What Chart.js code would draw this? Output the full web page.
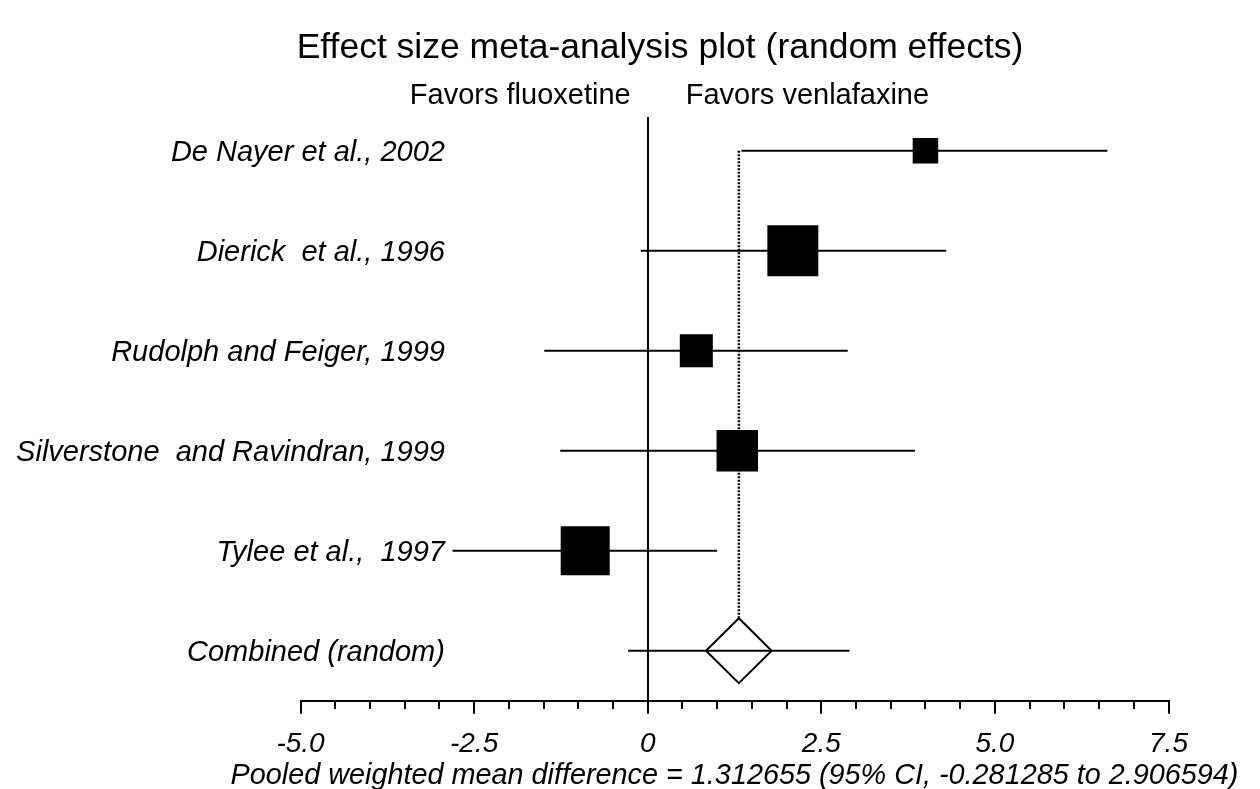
<!DOCTYPE html>
<html>
<head>
<meta charset="utf-8">
<script src="https://cdn.jsdelivr.net/npm/chart.js@4.4.0/dist/chart.umd.min.js"></script>
<style>
	body { margin: 0; background: #fff; }
	#wrap { width: 1260px; height: 789px; }
</style>
</head>
<body>
<div id="wrap"><canvas id="grafico" width="1260" height="789"></canvas></div>
<script>
const estudos = [
	"De Nayer et al., 2002",
	"Dierick  et al., 1996",
	"Rudolph and Feiger, 1999",
	"Silverstone  and Ravindran, 1999",
	"Tylee et al.,  1997",
	"Combined (random)",
];
const linhas = [6, 5, 4, 3, 2, 1];
const efeito = [4.0, 2.09, 0.7, 1.29, -0.9];
const inferior = [1.35, -0.1, -1.49, -1.26, -2.81];
const superior = [6.62, 4.3, 2.88, 3.85, 1.0];
const pesos = [7.7, 30.7, 12.9, 20.3, 28.4];
const pooled = 1.312655;
const pooledInf = -0.281285;
const pooledSup = 2.906594;
const diamante = [0.84, 1.785];
const ticksMaiores = [-5, -2.5, 0, 2.5, 5, 7.5];

const fonte = '"Liberation Sans", Arial, sans-serif';
const titulo = "Effect size meta-analysis plot (random effects)";
const tituloX = "Pooled weighted mean difference = 1.312655 (95% CI, -0.281285 to 2.906594)";

function ehMaior(v) {
	return ticksMaiores.some((t) => Math.abs(t - v) < 1e-6);
}

// lado do quadrado proporcional a raiz do peso
function raio(peso) {
	return (Math.sqrt(peso * 84.6) / 2) * Math.SQRT2;
}

const combinado = linhas[5];

const datasets = [];

datasets.push({
	label: "pesos",
	data: efeito.map((v, i) => ({ x: v, y: linhas[i] })),
	pointStyle: "rect",
	pointRadius: pesos.map(raio),
	pointBackgroundColor: "#000",
	pointBorderWidth: 0,
	showLine: false,
	order: 0,
});

datasets.push({
	label: "diamante",
	data: [
		{ x: diamante[0], y: combinado },
		{ x: pooled, y: combinado + 0.325 },
		{ x: diamante[1], y: combinado },
		{ x: pooled, y: combinado - 0.325 },
		{ x: diamante[0], y: combinado },
	],
	showLine: true,
	borderColor: "#000",
	borderWidth: 2,
	pointRadius: 0,
	fill: false,
	order: 1,
});

datasets.push({
	label: "pooled",
	data: [
		{ x: pooled, y: linhas[0] },
		{ x: pooled, y: combinado + 0.325 },
	],
	showLine: true,
	borderColor: "#000",
	borderWidth: 2.5,
	borderDash: [2, 1.5],
	pointRadius: 0,
	order: 1,
});

efeito.forEach((v, i) => {
	datasets.push({
		label: estudos[i],
		data: [
			{ x: inferior[i], y: linhas[i] },
			{ x: superior[i], y: linhas[i] },
		],
		showLine: true,
		borderColor: "#000",
		borderWidth: 2,
		pointRadius: 0,
		order: 2,
	});
});

datasets.push({
	label: estudos[5],
	data: [
		{ x: pooledInf, y: combinado },
		{ x: pooledSup, y: combinado },
	],
	showLine: true,
	borderColor: "#000",
	borderWidth: 2,
	pointRadius: 0,
	order: 2,
});

const textos = {
	id: "textos",
	afterDraw(chart) {
		const ctx = chart.ctx;
		const area = chart.chartArea;
		const x = chart.scales.x;
		const y = chart.scales.y;
		const zero = x.getPixelForValue(0);
		ctx.save();
		ctx.fillStyle = "#000";
		ctx.textBaseline = "alphabetic";
		ctx.font = "35.5px " + fonte;
		ctx.textAlign = "center";
		ctx.fillText(titulo, 660, 58);
		ctx.font = "29px " + fonte;
		ctx.textAlign = "right";
		ctx.fillText("Favors fluoxetine", zero - 17, 104);
		ctx.textAlign = "left";
		ctx.fillText("Favors venlafaxine", zero + 38, 104);
		ctx.font = "italic 29px " + fonte;
		ctx.textAlign = "right";
		estudos.forEach((nome, i) => {
			ctx.fillText(nome, x.getPixelForValue(-2.92), y.getPixelForValue(linhas[i]) + 10);
		});
		// titulo do eixo x, mais largo que a area do grafico
		ctx.font = "italic 28.8px " + fonte;
		ctx.textAlign = "center";
		ctx.fillText(tituloX, (area.left + area.right) / 2, 784);
		ctx.restore();
	},
};

new Chart(document.querySelector("#grafico"), {
	type: "scatter",
	data: { datasets: datasets },
	plugins: [textos],
	options: {
		responsive: false,
		animation: false,
		events: [],
		layout: { padding: { top: 117, left: 300.5, right: 91.5, bottom: 14.3 } },
		plugins: {
			legend: { display: false },
			tooltip: { enabled: false },
			title: { display: false },
		},
		scales: {
			x: {
				type: "linear",
				min: -5,
				max: 7.5,
				border: { display: true, color: "#000", width: 2 },
				grid: {
					drawOnChartArea: true,
					color: (c) => (c.tick && Math.abs(c.tick.value) < 1e-6 ? "#000" : "rgba(0,0,0,0)"),
					lineWidth: 2,
					tickLength: 13,
					tickColor: "#000",
					tickWidth: 2,
					tickBorderDash: (c) => (c.tick && ehMaior(c.tick.value) ? [] : [7, 100]),
				},
				ticks: {
					stepSize: 0.5,
					autoSkip: false,
					maxRotation: 0,
					padding: 13.7,
					color: "#000",
					font: { family: fonte, size: 28, style: "italic" },
					callback: (v) => {
						if (!ehMaior(v)) return "";
						return Math.abs(v) < 1e-6 ? "0" : v.toFixed(1);
					},
				},
			},
			y: {
				type: "linear",
				min: 0.5,
				max: 6.337,
				display: false,
			},
		},
	},
});
</script>
</body>
</html>
